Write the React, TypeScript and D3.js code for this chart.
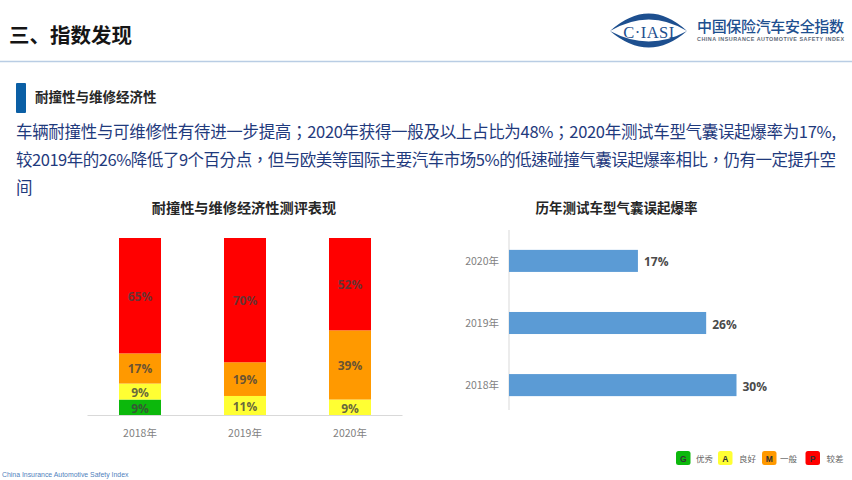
import * as d3 from "d3";

const years = ["2018年", "2019年", "2020年"];
const grades = ["G", "A", "M", "P"];
const gradeNames = ["优秀", "良好", "一般", "较差"];
const gradeColors = ["#0cb80c", "#ffff33", "#ff9900", "#ff0000"];
const gradeValues = [
  [9, 0, 0],
  [9, 11, 9],
  [17, 19, 39],
  [65, 70, 52],
];

const rateYears = ["2020年", "2019年", "2018年"];
const rateValues = [17, 26, 30];

const bodyLines = [
  "车辆耐撞性与可维修性有待进一步提高；2020年获得一般及以上占比为48%；2020年测试车型气囊误起爆率为17%,",
  "较2019年的26%降低了9个百分点，但与欧美等国际主要汽车市场5%的低速碰撞气囊误起爆率相比，仍有一定提升空",
  "间",
];

const cjk = "'Noto Sans CJK SC', 'Noto Sans', sans-serif";

const stackRows = years.map((y, i) => {
  const row: Record<string, number | string> = { year: y };
  grades.forEach((g, k) => (row[g] = gradeValues[k][i]));
  return row;
});

const App = () => {
  const x1 = d3.scaleBand().domain(years).range([87.5, 402.5]).paddingInner(0.6).paddingOuter(0.3);
  const y1 = d3.scaleLinear().domain([0, 100]).range([415.5, 238]);
  const series = d3.stack<any>().keys(grades)(stackRows);

  const x2 = d3.scaleLinear().domain([0, 30]).range([509, 736.5]);
  const y2 = d3.scaleBand().domain(rateYears).range([230, 416]).paddingInner(0.645).paddingOuter(0.32);

  return (
    <svg width={852} height={480} style={{ position: "absolute", left: 0, top: 0, background: "#fff" }} fontFamily={cjk}>
      {/* header */}
      <text x={9} y={43} fontSize={20.5} fontWeight={700} fill="#151515">三、指数发现</text>
      <line x1={0} x2={852} y1={61.5} y2={61.5} stroke="#b9cde4" strokeWidth={1.5} />

      {/* logo */}
      <g>
        <path d="M610 31 Q649 -4 687 31 Q649 8 610 31 Z" fill="#1d4f8f" />
        <path d="M610 31 Q649 64 687 31 Q649 52 610 31 Z" fill="#1d4f8f" />
        <text x={649} y={38} fontSize={16.5} textAnchor="middle" fontFamily="'Liberation Serif', serif" fill="#1d4f8f" letterSpacing={0.5}>C·IASI</text>
        <text x={697} y={32} fontSize={15} fill="#1d4f8f" fontWeight={500} textLength={147}>中国保险汽车安全指数</text>
        <text x={697} y={40.5} fontSize={5.4} fontFamily="'Liberation Sans', sans-serif" fontWeight={700} fill="#5f6b78" textLength={147}>CHINA INSURANCE AUTOMOTIVE SAFETY INDEX</text>
      </g>

      {/* section heading */}
      <rect x={16} y={83} width={10} height={30} rx={1} fill="#0b5fa5" />
      <text x={35} y={102} fontSize={13.5} fontWeight={700} fill="#262626">耐撞性与维修经济性</text>
      {bodyLines.map((l, i) => (
        <text key={i} x={16} y={[137.5, 166, 194][i]} fontSize={16.5} fill="#1f3a7d" fontFamily="'Noto Sans CJK TC', sans-serif" textLength={i < 2 ? 820 : undefined}>{l}</text>
      ))}

      {/* chart titles */}
      <text x={244} y={213} fontSize={14.2} fontWeight={700} fill="#262626" textAnchor="middle">耐撞性与维修经济性测评表现</text>
      <text x={616.5} y={213} fontSize={13.5} fontWeight={700} fill="#262626" textAnchor="middle">历年测试车型气囊误起爆率</text>

      {/* stacked bars */}
      {series.map((s, k) =>
        s.map((d, i) => {
          const v = d[1] - d[0];
          if (!v) return null;
          const bx = x1(years[i])!;
          return (
            <g key={`${k}-${i}`}>
              <rect x={bx} width={x1.bandwidth()} y={y1(d[1])} height={y1(d[0]) - y1(d[1])} fill={gradeColors[k]} />
              <text x={bx + x1.bandwidth() / 2} y={(y1(d[0]) + y1(d[1])) / 2 + 5} fontSize={12} fontWeight={700} textAnchor="middle" fill="#404040" fillOpacity={0.8} fontFamily="'Open Sans', sans-serif">{v}%</text>
            </g>
          );
        })
      )}
      <line x1={87.5} x2={402.5} y1={415.5} y2={415.5} stroke="#d9d9d9" />
      {years.map((y) => (
        <text key={y} x={x1(y)! + x1.bandwidth() / 2} y={437} fontSize={10.5} textAnchor="middle" fill="#7f7f7f">{y}</text>
      ))}

      {/* rate bars */}
      <line x1={509} x2={509} y1={230} y2={410} stroke="#d9d9d9" />
      {rateYears.map((y, i) => (
        <g key={y}>
          <rect x={x2(0)} y={y2(y)!} width={x2(rateValues[i]) - x2(0)} height={y2.bandwidth()} fill="#5b9bd5" />
          <text x={x2(rateValues[i]) + 6} y={y2(y)! + y2.bandwidth() / 2 + 5.5} fontSize={12} fontWeight={700} fill="#4a4a4a" fontFamily="'Open Sans', sans-serif">{rateValues[i]}%</text>
          <text x={499} y={y2(y)! + y2.bandwidth() / 2 + 4} fontSize={10.5} textAnchor="end" fill="#7f7f7f">{y}</text>
        </g>
      ))}

      {/* legend */}
      {grades.map((g, i) => {
        const lx = [676, 718, 762, 805.5][i];
        const off = [20, 21, 18, 21][i];
        return (
          <g key={g}>
            <rect x={lx} y={451} width={14.5} height={14} rx={2.5} fill={gradeColors[i]} />
            <text x={lx + 7.2} y={461.5} fontSize={8.5} fontWeight={700} textAnchor="middle" fill="#333" fontFamily="'Liberation Sans', sans-serif">{g}</text>
            <text x={lx + off} y={461.5} fontSize={8.5} fill="#666">{gradeNames[i]}</text>
          </g>
        );
      })}

      <text x={2} y={476.5} fontSize={6.9} fill="#4f81bd" fontFamily="'Liberation Sans', sans-serif">China Insurance Automotive Safety Index</text>
    </svg>
  );
};

export default App;
